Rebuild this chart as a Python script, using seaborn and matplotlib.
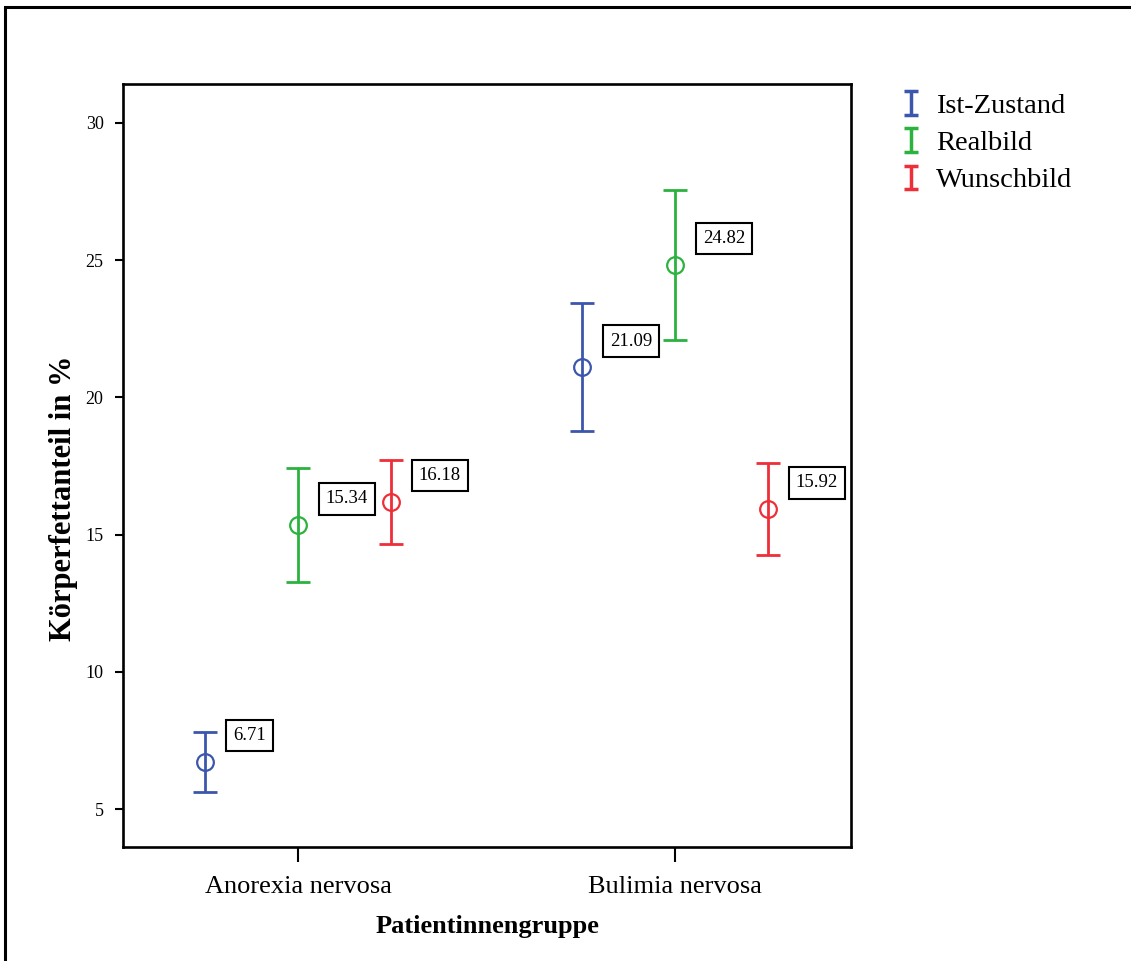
import numpy as np
import pandas as pd
import seaborn as sns
import matplotlib.pyplot as plt
from matplotlib.patches import Rectangle
from matplotlib.legend_handler import HandlerErrorbar

sns.set_style("ticks", {"text.color": "black", "axes.labelcolor": "black",
                        "xtick.color": "black", "ytick.color": "black"})
plt.rcParams['font.family'] = ['Liberation Serif', 'DejaVu Serif']

# data
gruppen = ["Anorexia nervosa", "Bulimia nervosa"]
messungen = ["Ist-Zustand", "Realbild", "Wunschbild"]
mittel_an = [6.71, 15.34, 16.18]
mittel_bn = [21.09, 24.82, 15.92]
unten_an = [5.62, 13.27, 14.66]
unten_bn = [18.78, 22.09, 14.26]
oben_an = [7.81, 17.43, 17.72]
oben_bn = [23.44, 27.56, 17.61]
farben = ["#3c56ad", "#2bb23f", "#ee2e38"]

df = pd.DataFrame({
    "Patientinnengruppe": [gruppen[0]] * 3 + [gruppen[1]] * 3,
    "Messung": messungen * 2,
    "Wert": mittel_an + mittel_bn,
    "unten": unten_an + unten_bn,
    "oben": oben_an + oben_bn,
})

fig = plt.figure(figsize=(11.31, 9.61), dpi=100)
ax = fig.add_axes([0.1088, 0.1186, 0.6437, 0.794])

sns.pointplot(data=df, x="Patientinnengruppe", y="Wert", hue="Messung",
              hue_order=messungen, order=gruppen, palette=farben,
              dodge=0.4934, linestyle="none", errorbar=None, markers="o",
              markersize=12, legend=False, ax=ax)

proxies = []
for line, m, c in zip(ax.lines[:3], messungen, farben):
    line.set_markerfacecolor("none")
    line.set_markeredgecolor(c)
    line.set_markeredgewidth(1.6)
    xs = line.get_xdata()
    sub = df[df.Messung == m].set_index("Patientinnengruppe").loc[gruppen]
    mw = sub.Wert.values
    ax.errorbar(xs, mw, yerr=[mw - sub.unten.values, sub.oben.values - mw],
                fmt="none", ecolor=c, elinewidth=2, capsize=8.6, capthick=2, zorder=1)
    for x, v in zip(xs, mw):
        ax.annotate(f"{v:.2f}", (x, v), xytext=(20, 19), textcoords="offset points",
                    ha="left", va="center", fontsize=13.5, color="black",
                    bbox=dict(boxstyle="square,pad=0.38", fc="white", ec="black", lw=1.5))
    proxies.append(ax.errorbar([np.nan], [np.nan], yerr=[np.nan], fmt="none",
                               ecolor=c, elinewidth=2.5, capsize=5, capthick=2.5, label=m))

ax.set_xlim(-0.464, 1.467)
ax.set_ylim(3.615, 31.42)
ax.set_yticks([5, 10, 15, 20, 25, 30])
ax.set_xlabel("Patientinnengruppe", fontsize=19, fontweight="bold", labelpad=12)
ax.set_ylabel("Körperfettanteil in %", fontsize=22, fontweight="bold")
ax.yaxis.set_label_coords(-0.062, 0.457)
ax.tick_params(axis="y", length=6, width=1.5, pad=8, labelsize=13, color="black")
ax.tick_params(axis="x", length=11, width=1.5, pad=10, labelsize=19, color="black")
for s in ax.spines.values():
    s.set_visible(True)
    s.set_linewidth(1.9)
    s.set_color("black")

fig.legend(handles=proxies, labels=messungen, loc="upper left",
           bbox_to_anchor=(0.775, 0.93), frameon=False, fontsize=20.5,
           handlelength=0.6, handletextpad=0.6, labelspacing=0.4,
           handler_map={type(proxies[0]): HandlerErrorbar(xerr_size=0.42)})

# outer frame like the exported SPSS chart
fig.patches.append(Rectangle((5 / 1131, -0.5), 2.0, 1.5 - 7 / 961,
                             transform=fig.transFigure, fill=False,
                             ec="black", lw=2.2, clip_on=False))

fig.savefig("out.png", dpi=100)
